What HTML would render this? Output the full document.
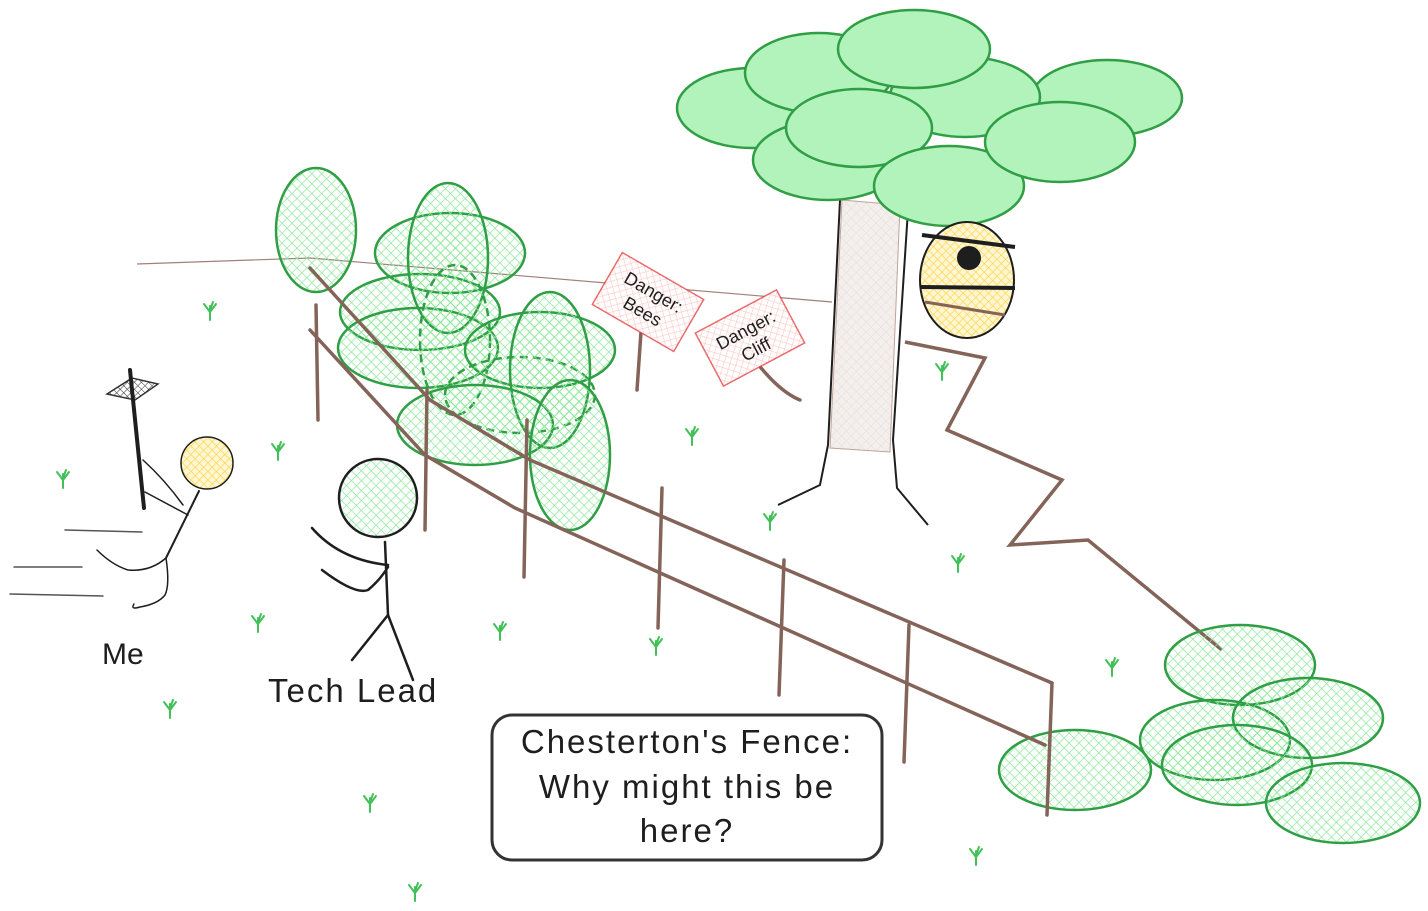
<!DOCTYPE html>
<html><head><meta charset="utf-8"><style>
html,body{margin:0;padding:0;background:#fff;width:1428px;height:911px;overflow:hidden}
svg{display:block}
text{font-family:"Liberation Sans",sans-serif;fill:#1e1e1e}
</style></head><body>
<svg width="1428" height="911" viewBox="0 0 1428 911" xmlns="http://www.w3.org/2000/svg">
<defs>
<pattern id="hg" width="7" height="7" patternUnits="userSpaceOnUse" patternTransform="rotate(45)">
<path d="M0 0H7M0 0V7" stroke="#8ce99a" stroke-width="1.4"/></pattern>
<pattern id="hy" width="6" height="6" patternUnits="userSpaceOnUse" patternTransform="rotate(45)">
<rect width="6" height="6" fill="#fff6d5"/>
<path d="M0 0H6M0 0V6" stroke="#ffd43b" stroke-width="1.3"/></pattern>
<pattern id="hr" width="6" height="6" patternUnits="userSpaceOnUse" patternTransform="rotate(45)">
<rect width="6" height="6" fill="#fff"/>
<path d="M0 0H6M0 0V6" stroke="#ffc9c9" stroke-width="1.3"/></pattern>
<pattern id="hb" width="7" height="7" patternUnits="userSpaceOnUse" patternTransform="rotate(45)">
<rect width="7" height="7" fill="#f3efed"/>
<path d="M0 0H7M0 0V7" stroke="#e6ddd9" stroke-width="1"/></pattern>
<pattern id="hk" width="5" height="5" patternUnits="userSpaceOnUse" patternTransform="rotate(45)">
<path d="M0 0H5M0 0V5" stroke="#333" stroke-width="1"/></pattern>
</defs>

<polyline points="137,264 310,258 832,302" fill="none" stroke="#a08078" stroke-width="1.2"/>

<!-- trunk -->
<polygon points="842,200 900,205 890,452 830,448" fill="url(#hb)" stroke="#c0a39a" stroke-width="1"/>
<polyline points="840,200 828,445 820,485 778,505" fill="none" stroke="#1e1e1e" stroke-width="2"/>
<polyline points="908,210 893,440 897,488 928,525" fill="none" stroke="#1e1e1e" stroke-width="2"/>

<g fill="#b2f2bb" stroke="#2f9e44" stroke-width="2.5">
<ellipse cx="1107" cy="98" rx="75" ry="38"/>
<ellipse cx="965" cy="97" rx="75" ry="40"/>
<ellipse cx="752" cy="108" rx="75" ry="40"/>
<ellipse cx="828" cy="160" rx="75" ry="40"/>
<ellipse cx="819" cy="73" rx="74" ry="40"/>
<ellipse cx="914" cy="49" rx="76" ry="39"/>
<ellipse cx="859" cy="128" rx="73" ry="39"/>
<ellipse cx="949" cy="186" rx="75" ry="40"/>
<ellipse cx="1060" cy="142" rx="75" ry="40"/>
</g>

<ellipse cx="967" cy="280" rx="47" ry="58" fill="url(#hy)" stroke="#1e1e1e" stroke-width="2"/>
<line x1="922" y1="235" x2="1015" y2="247" stroke="#1e1e1e" stroke-width="4"/>
<line x1="920" y1="287" x2="1015" y2="288" stroke="#1e1e1e" stroke-width="4"/>
<line x1="925" y1="302" x2="1005" y2="315" stroke="#846358" stroke-width="3"/>
<circle cx="969" cy="258" r="12" fill="#1e1e1e"/>

<polyline points="905,342 985,358 947,430 1062,480 1010,545 1088,540 1222,650" fill="none" stroke="#846358" stroke-width="3.5"/>

<g fill="url(#hg)" stroke="#2f9e44" stroke-width="2.5">
<ellipse cx="316" cy="230" rx="40" ry="62"/>
<ellipse cx="450" cy="253" rx="75" ry="40"/>
<ellipse cx="420" cy="312" rx="80" ry="38"/>
<ellipse cx="418" cy="348" rx="80" ry="40"/>
<ellipse cx="448" cy="258" rx="40" ry="75"/>
<ellipse cx="455" cy="340" rx="35" ry="75" stroke-dasharray="8 5"/>
<ellipse cx="540" cy="350" rx="75" ry="38"/>
<ellipse cx="520" cy="395" rx="75" ry="38" stroke-dasharray="8 5"/>
<ellipse cx="550" cy="370" rx="40" ry="78"/>
<ellipse cx="475" cy="425" rx="78" ry="40"/>
<ellipse cx="570" cy="455" rx="40" ry="75"/>
</g>

<g fill="url(#hg)" stroke="#2f9e44" stroke-width="2.5">
<ellipse cx="1240" cy="665" rx="75" ry="40"/>
<ellipse cx="1215" cy="740" rx="75" ry="40"/>
<ellipse cx="1308" cy="718" rx="75" ry="40"/>
<ellipse cx="1237" cy="765" rx="75" ry="40"/>
<ellipse cx="1343" cy="803" rx="77" ry="40"/>
<ellipse cx="1075" cy="770" rx="76" ry="40"/>
</g>

<g fill="none" stroke="#846358" stroke-width="3.5" stroke-linecap="round">
<polyline points="310,268 430,400 530,460 1052,683"/>
<polyline points="310,330 425,455 515,508 1045,745"/>
<line x1="316" y1="305" x2="318" y2="420"/>
<line x1="427" y1="390" x2="425" y2="530"/>
<line x1="527" y1="420" x2="524" y2="577"/>
<line x1="662" y1="488" x2="658" y2="628"/>
<line x1="784" y1="560" x2="779" y2="695"/>
<line x1="909" y1="625" x2="904" y2="762"/>
<line x1="1052" y1="683" x2="1047" y2="815"/>
<line x1="641" y1="332" x2="637" y2="390"/>
<path d="M757,363 Q780,392 800,400"/>
</g>

<g transform="translate(648,302) rotate(30)">
<rect x="-47" y="-30" width="94" height="60" fill="url(#hr)" stroke="#e03131" stroke-opacity="0.7" stroke-width="1.5"/>
<text x="0" y="-5" text-anchor="middle" font-size="18">Danger:</text>
<text x="0" y="17" text-anchor="middle" font-size="18">Bees</text>
</g>
<g transform="translate(750,338) rotate(-28)">
<rect x="-46" y="-30" width="92" height="60" fill="url(#hr)" stroke="#e03131" stroke-opacity="0.7" stroke-width="1.5"/>
<text x="0" y="-3" text-anchor="middle" font-size="18">Danger:</text>
<text x="0" y="19" text-anchor="middle" font-size="18">Cliff</text>
</g>

<g fill="none" stroke="#1e1e1e" stroke-linecap="round">
<line x1="65" y1="530" x2="142" y2="532" stroke="#555" stroke-width="1.5"/>
<line x1="14" y1="567" x2="82" y2="567" stroke="#555" stroke-width="1.5"/>
<line x1="10" y1="594" x2="103" y2="596" stroke="#555" stroke-width="1.5"/>
<polygon points="107,394 132,378 158,384 135,400" fill="url(#hk)" stroke="#333" stroke-width="1.5"/>
<line x1="130" y1="370" x2="144" y2="508" stroke-width="4"/>
<path d="M143,460 Q165,480 183,505 M145,492 L188,515" stroke-width="1.5"/>
<line x1="199" y1="491" x2="166" y2="558" stroke-width="2"/>
<path d="M166,558 Q150,572 128,570 Q112,565 97,550" stroke-width="1.5"/>
<path d="M166,558 Q170,585 165,595 Q158,604 140,607 Q130,610 134,604" stroke-width="1.5"/>
</g>
<circle cx="207" cy="463" r="26" fill="url(#hy)" stroke="#1e1e1e" stroke-width="1.5"/>
<text x="102" y="664" font-size="30">Me</text>

<circle cx="378" cy="498" r="39" fill="url(#hg)" stroke="#1e1e1e" stroke-width="2.5"/>
<g fill="none" stroke="#1e1e1e" stroke-width="2.5" stroke-linecap="round">
<line x1="385" y1="542" x2="388" y2="615"/>
<path d="M312,528 Q340,560 388,565"/>
<path d="M322,570 Q355,595 368,590 Q380,580 388,567"/>
<line x1="388" y1="615" x2="352" y2="660"/>
<line x1="388" y1="615" x2="413" y2="680"/>
</g>
<text x="268" y="702" font-size="33" letter-spacing="2">Tech Lead</text>

<g fill="none" stroke="#40c057" stroke-width="2" stroke-linecap="round">
<path id="g" d="M0,8 L0,-6 M0,0 L-6,-8 M0,0 L6,-8 M0,-2 L3,-10" transform="translate(210,312)"/>
<use href="#g" x="-147" y="168"/>
<use href="#g" x="68" y="140"/>
<use href="#g" x="48" y="312"/>
<use href="#g" x="-40" y="398"/>
<use href="#g" x="160" y="492"/>
<use href="#g" x="205" y="581"/>
<use href="#g" x="290" y="320"/>
<use href="#g" x="482" y="125"/>
<use href="#g" x="560" y="210"/>
<use href="#g" x="446" y="335"/>
<use href="#g" x="732" y="60"/>
<use href="#g" x="748" y="252"/>
<use href="#g" x="902" y="356"/>
<use href="#g" x="766" y="545"/>
</g>

<rect x="492" y="715" width="390" height="145" rx="20" fill="#fff" stroke="#333" stroke-width="3"/>
<g font-size="33" text-anchor="middle" letter-spacing="2">
<text x="687" y="753">Chesterton's Fence:</text>
<text x="687" y="798">Why might this be</text>
<text x="687" y="842">here?</text>
</g>
</svg>
</body></html>
